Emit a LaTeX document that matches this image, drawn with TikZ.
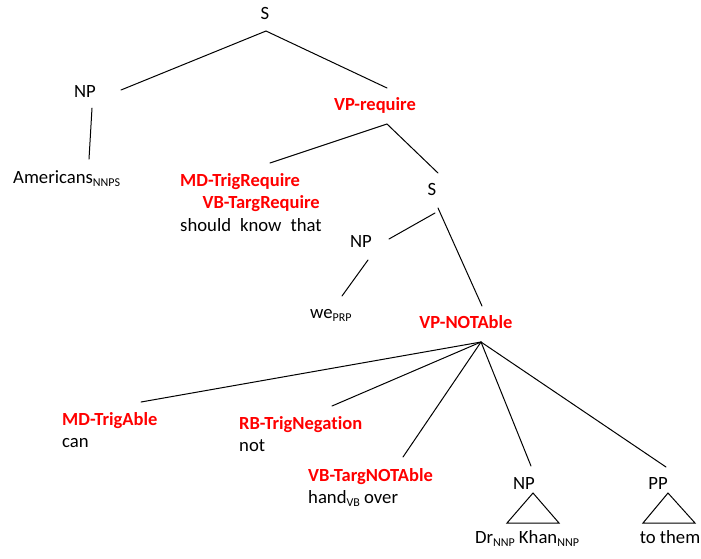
\documentclass[tikz,border=0pt]{standalone}
\usepackage{fontspec}
\setmainfont{Carlito}[Ligatures=NoCommon]
\definecolor{tred}{RGB}{255,0,0}
\newcommand\subs[1]{\raisebox{-3pt}{\fontsize{12}{12}\selectfont #1}}
\begin{document}
\begin{tikzpicture}[x=1pt,y=-1pt,
  lab/.style={inner sep=0pt, font=\fontsize{18.7}{22}\selectfont},
  redlab/.style={inner sep=0pt, text=tred, font=\fontsize{18.5}{22}\selectfont\bfseries},
  edge/.style={line width=1pt, black, line cap=round, line join=miter}]
\useasboundingbox (0,0) rectangle (701,558);
% nodes
\node[lab, anchor=base] (S) at (265,19) {S};
\node[lab, anchor=base] (NP1) at (85,97) {NP};
\node[lab, anchor=base west] (amer) at (13,183) {Americans\subs{NNPS}};
\node[redlab, anchor=base] (VPr) at (375,110.5) {VP-require};
\node[redlab, anchor=base west] (MDr) at (180,186) {MD-TrigRequire};
\node[redlab, anchor=base east] (VBr) at (320,208) {VB-TargRequire};
\node[lab, anchor=base west] (skt) at (180,231) {should\hspace{9pt}know\hspace{9pt}that};
\node[lab, anchor=base] (S2) at (432,195) {S};
\node[lab, anchor=base] (NP2) at (361,247) {NP};
\node[lab, anchor=base west] (we) at (310,318) {we\subs{PRP}};
\node[redlab, anchor=base] (VPn) at (466,328.5) {VP-NOTAble};
\node[redlab, anchor=base west] (MDa) at (62,425) {MD-TrigAble};
\node[lab, anchor=base west] (can) at (62,447) {can};
\node[redlab, anchor=base west] (RBn) at (239,429) {RB-TrigNegation};
\node[lab, anchor=base west] (not) at (239,451) {not};
\node[redlab, anchor=base west] (VBn) at (308,481) {VB-TargNOTAble};
\node[lab, anchor=base west] (hand) at (308,503) {hand\subs{VB} over};
\node[lab, anchor=base] (NP3) at (524,489) {NP};
\node[lab, anchor=base] (PP) at (658,489) {PP};
\node[lab, anchor=base] (drk) at (527,543) {Dr\subs{NNP} Khan\subs{NNP}};
\node[lab, anchor=base] (them) at (670,543) {to them};
% connector end points
\coordinate (S-dn) at (266,31);
\coordinate (NP1-up) at (121,90);
\coordinate (VPr-up) at (387,88);
\coordinate (NP1-dn) at (92,108);
\coordinate (amer-up) at (89,159);
\coordinate (VPr-dn) at (387,124);
\coordinate (MDr-up) at (270,163);
\coordinate (S2-up) at (438,173);
\coordinate (S2-dnL) at (435,213);
\coordinate (S2-dnR) at (438,208);
\coordinate (NP2-up) at (389,239);
\coordinate (NP2-dn) at (368,260);
\coordinate (we-up) at (342,296);
\coordinate (VPn-up) at (482,306);
\coordinate (VPn-dn) at (481,342);
\coordinate (MDa-up) at (141,402);
\coordinate (RBn-up) at (332,406);
\coordinate (VBn-up) at (403,457);
\coordinate (NP3-up) at (531,466);
\coordinate (PP-up) at (666,467);
% connectors
\draw[edge] (NP1-up) -- (S-dn) -- (VPr-up);
\draw[edge] (NP1-dn) -- (amer-up);
\draw[edge] (MDr-up) -- (VPr-dn) -- (S2-up);
\draw[edge] (S2-dnL) -- (NP2-up);
\draw[edge] (S2-dnR) -- (VPn-up);
\draw[edge] (NP2-dn) -- (we-up);
\draw[edge] (VPn-dn) -- (MDa-up);
\draw[edge] (VPn-dn) -- (RBn-up);
\draw[edge] (VPn-dn) -- (VBn-up);
\draw[edge] (VPn-dn) -- (NP3-up);
\draw[edge] (VPn-dn) -- (PP-up);
% triangles
\draw[edge] (533,493) -- (507,523) -- (559,523) -- cycle;
\draw[edge] (668,493) -- (643,523) -- (695,523) -- cycle;
\end{tikzpicture}
\end{document}
